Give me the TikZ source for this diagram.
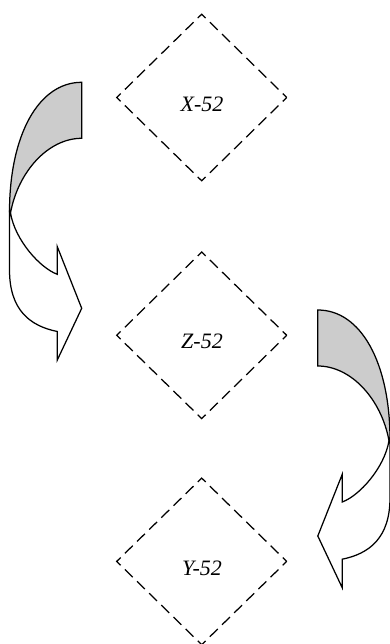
\documentclass[tikz,border=0pt]{standalone}
\usepackage{fontspec}
\setmainfont{Liberation Serif}
\usetikzlibrary{shapes.geometric}
\definecolor{bandgray}{RGB}{204,204,204}
\tikzset{
  dia/.style={shape=diamond, draw, line width=1.25pt, minimum width=170pt,
    minimum height=166.6pt, inner sep=0pt, outer sep=0pt,
    dash pattern=on 11pt off 6pt, dash phase=5.5pt},
  lbl/.style={font=\fontsize{22}{26}\selectfont\itshape, inner sep=0pt},
  band/.style={draw, line width=1.25pt, line join=miter},
}
\newcommand\mycurvedarrowshape{%
  \filldraw[band, fill=bandgray] (81.7,82.3) .. controls (38.4,82.3) and (9.5,135.4) .. (9.5,212)
    -- (10.5,213) .. controls (18,172) and (48,138.3) .. (81.7,138.3) -- cycle;
  \filldraw[band, fill=white] (10.5,213) .. controls (15,240) and (40,268) .. (57.3,274.3)
    -- (57.3,246.7) -- (81.7,308.3) -- (57.3,360) -- (57.3,331.5)
    .. controls (30,326) and (9.5,310) .. (9.5,270) -- (9.5,212) -- cycle;
}
\begin{document}
\begin{tikzpicture}[x=1pt,y=-1pt]
  \useasboundingbox (0,0) rectangle (390,644);
  \fill[white] (0,0) rectangle (390,644);
  % diamonds
  \node[dia] (x) at (201.7,97.5) {};
  \node[dia] (z) at (201.7,335.3) {};
  \node[dia] (y) at (201.7,561.4) {};
  \node[lbl] (xl) at (202,104) {X-52};
  \node[lbl] (zl) at (202,341.8) {Z-52};
  \node[lbl] (yl) at (202,567.9) {Y-52};
  % curved arrows
  \begin{scope}
    \mycurvedarrowshape
  \end{scope}
  \begin{scope}[shift={(399.5,227.7)}, xscale=-1]
    \mycurvedarrowshape
  \end{scope}
\end{tikzpicture}
\end{document}
